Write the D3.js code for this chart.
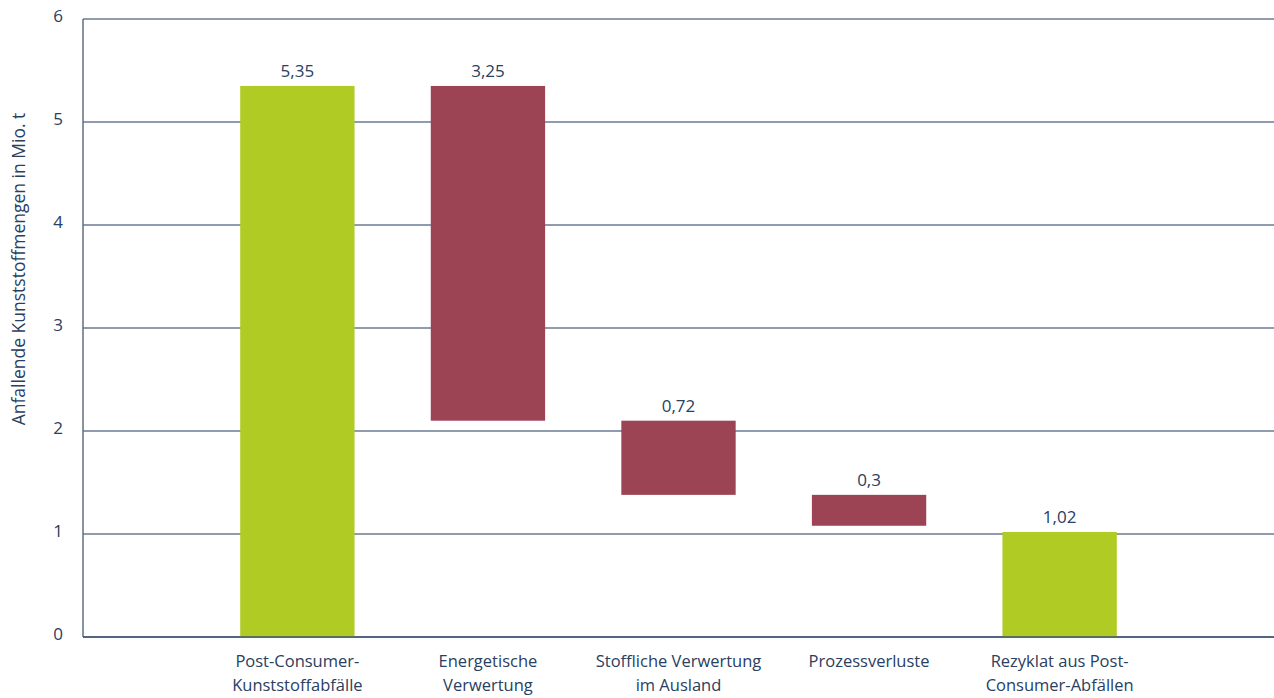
<!DOCTYPE html>
<html>
<head>
<meta charset="utf-8">
<script src="https://cdn.jsdelivr.net/npm/d3@7"></script>
<style>
  html, body { margin: 0; padding: 0; background: #ffffff; }
  svg text { font-family: "Open Sans", "Noto Sans", sans-serif; fill: #29405f; }
</style>
</head>
<body>
<svg id="chart" width="1274" height="698"></svg>
<script>
// Waterfall of post-consumer plastic waste flows (Mio. t)
const categories = [
  ["Post-Consumer-", "Kunststoffabfälle"],
  ["Energetische", "Verwertung"],
  ["Stoffliche Verwertung", "im Ausland"],
  ["Prozessverluste"],
  ["Rezyklat aus Post-", "Consumer-Abfällen"]
];
const values = [5.35, 3.25, 0.72, 0.3, 1.02];
const valueLabels = ["5,35", "3,25", "0,72", "0,3", "1,02"];
// "total" bars start at zero, "loss" bars hang down from the running level
const barTypes = ["total", "loss", "loss", "loss", "total"];
const yTicks = [0, 1, 2, 3, 4, 5, 6];
const yTitle = "Anfallende Kunststoffmengen in Mio. t";

const colors = { total: "#b0cb23", loss: "#9c4453" };

const width = 1274, height = 698;
const margin = { top: 19, right: 0, bottom: 61, left: 83 };

const svg = d3.select("#chart");

const x = d3.scaleBand()
  .domain(d3.range(categories.length))
  .range([margin.left, width - margin.right])
  .paddingInner(0.4)
  .paddingOuter(0.825);

const y = d3.scaleLinear()
  .domain([0, 6])
  .range([height - margin.bottom, margin.top]);

// running level for the waterfall
let level = 0;
const bars = values.map((v, i) => {
  let y0, y1;
  if (barTypes[i] === "total") {
    y0 = 0; y1 = v; level = v;
  } else {
    y1 = level; y0 = level - v; level = y0;
  }
  return { i, v, y0, y1, type: barTypes[i], label: valueLabels[i] };
});

// horizontal gridlines
svg.append("g")
  .selectAll("line")
  .data(yTicks)
  .join("line")
  .attr("x1", margin.left)
  .attr("x2", width - margin.right)
  .attr("y1", d => y(d))
  .attr("y2", d => y(d))
  .attr("stroke", "#1e3a5c")
  .attr("stroke-width", 1.2);

// bars
svg.append("g")
  .selectAll("rect")
  .data(bars)
  .join("rect")
  .attr("x", d => x(d.i))
  .attr("width", x.bandwidth())
  .attr("y", d => y(d.y1))
  .attr("height", d => y(d.y0) - y(d.y1))
  .attr("fill", d => colors[d.type]);

// left axis line
svg.append("line")
  .attr("x1", margin.left).attr("x2", margin.left)
  .attr("y1", y(6)).attr("y2", y(0))
  .attr("stroke", "#5d6f86")
  .attr("stroke-width", 1.5);

// bottom baseline
svg.append("line")
  .attr("x1", margin.left).attr("x2", width - margin.right)
  .attr("y1", y(0)).attr("y2", y(0))
  .attr("stroke", "#3f5470")
  .attr("stroke-width", 1.5);

// y tick labels
svg.append("g")
  .selectAll("text")
  .data(yTicks)
  .join("text")
  .attr("x", margin.left - 20)
  .attr("y", d => y(d))
  .attr("dy", "0.15em")
  .attr("text-anchor", "end")
  .attr("font-size", 17)
  .text(d => d);

// value labels above bars
svg.append("g")
  .selectAll("text")
  .data(bars)
  .join("text")
  .attr("x", d => x(d.i) + x.bandwidth() / 2)
  .attr("y", d => y(d.y1) - 9)
  .attr("text-anchor", "middle")
  .attr("font-size", 17)
  .text(d => d.label);

// category labels
const cat = svg.append("g")
  .selectAll("text")
  .data(categories)
  .join("text")
  .attr("x", (d, i) => x(i) + x.bandwidth() / 2)
  .attr("y", 667)
  .attr("text-anchor", "middle")
  .attr("font-size", 16.5);
cat.selectAll("tspan")
  .data(d => d)
  .join("tspan")
  .attr("x", function () { return this.parentNode.getAttribute("x"); })
  .attr("dy", (d, j) => j === 0 ? 0 : 24)
  .text(d => d);

// y axis title
svg.append("text")
  .attr("transform", "translate(25,269) rotate(-90)")
  .attr("text-anchor", "middle")
  .attr("font-size", 17.5)
  .text(yTitle);
</script>
</body>
</html>
